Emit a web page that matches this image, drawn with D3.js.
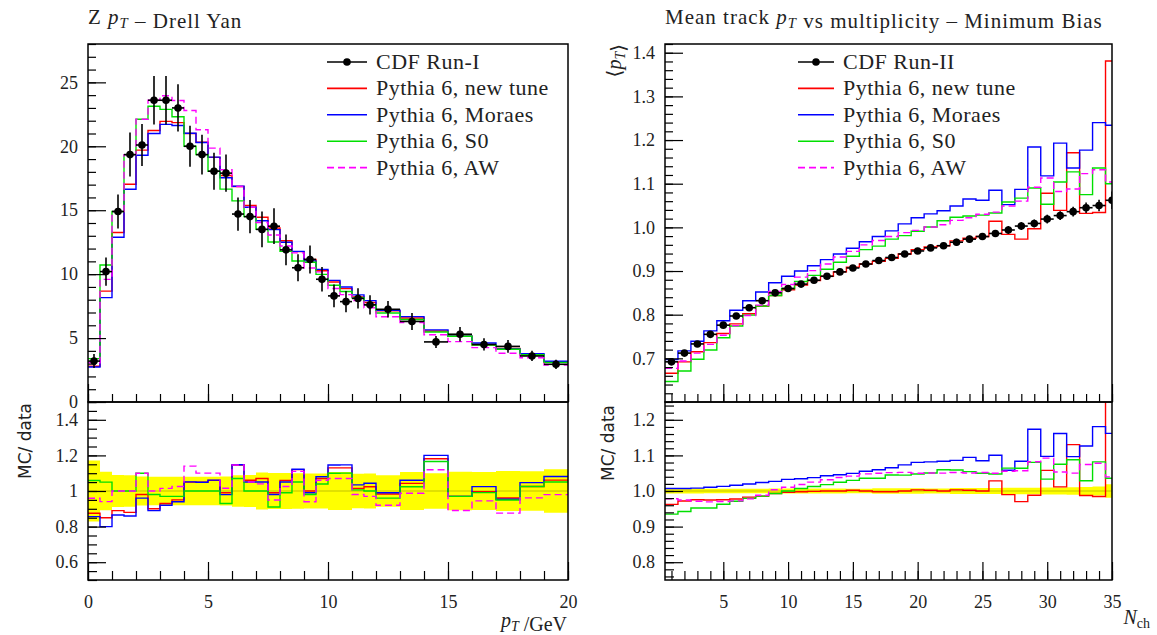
<!DOCTYPE html>
<html><head><meta charset="utf-8">
<script src="https://cdn.jsdelivr.net/npm/d3@7"></script>
<style>
body{margin:0;background:#fff}
svg{display:block}
</style>
</head><body>
<svg id="c" width="1157" height="635"></svg>
<script>
// ---------------- Left: Z pT (Drell Yan) ----------------
const zptEdges = [0,0.5,1,1.5,2,2.5,3,3.5,4,4.5,5,5.5,6,6.5,7,7.5,8,8.5,9,9.5,10,10.5,11,11.5,12,13,14,15,16,17,18,19,20];
const zptData  = [3.2,10.2,14.9,19.35,20.1,23.6,23.6,23.0,20.0,19.35,18.05,17.9,14.7,14.5,13.5,13.75,11.9,10.5,11.15,9.6,8.3,7.85,8.1,7.6,7.25,6.3,4.7,5.3,4.5,4.35,3.6,2.95];
const zptErr   = [0.55,1.1,1.33,1.72,1.65,1.9,1.9,1.85,1.6,1.55,1.45,1.45,1.3,1.3,1.4,1.4,1.2,1.05,1.1,0.95,0.89,0.84,0.79,0.75,0.64,0.67,0.47,0.57,0.48,0.49,0.40,0.36];
const zptNewTune = [2.80,8.67,13.26,17.03,19.70,21.24,21.95,21.85,21.00,20.32,19.13,17.72,16.85,15.37,14.45,13.61,12.61,11.76,11.15,10.27,9.38,8.87,8.22,7.78,7.13,6.57,5.55,5.14,4.48,4.18,3.69,3.13];
const zptMoraes  = [2.74,8.16,12.89,16.64,19.30,21.00,21.71,21.62,21.02,20.30,19.15,17.54,16.87,15.23,14.18,13.48,12.50,11.78,11.04,10.37,9.51,9.00,8.38,7.93,7.18,6.68,5.64,5.14,4.61,4.15,3.77,3.19];
const zptS0      = [3.39,10.71,14.90,19.35,22.11,23.13,22.89,22.31,20.00,19.35,18.05,16.65,15.73,14.50,13.50,12.51,11.78,11.03,10.93,9.98,9.13,8.64,8.15,7.60,6.96,6.45,5.48,5.14,4.46,4.13,3.69,3.10];
const zptAW      = [3.07,9.59,14.90,19.35,22.11,23.60,23.95,23.58,22.80,21.29,19.86,18.17,16.85,15.23,14.04,13.06,12.20,11.66,10.48,10.18,8.88,8.40,7.94,7.37,6.67,6.22,5.26,4.72,4.25,3.81,3.46,2.89];
const zptXTicks = [0,5,10,15,20];
const zptYTicks = [0,5,10,15,20,25];
const zptRTicks = [0.6,0.8,1,1.2,1.4];

// ---------------- Right: mean track pT vs Nch ----------------
const nchEdges = [0.5,1.5,2.5,3.5,4.5,5.5,6.5,7.5,8.5,9.5,10.5,11.5,12.5,13.5,14.5,15.5,16.5,17.5,18.5,19.5,20.5,21.5,22.5,23.5,24.5,25.5,26.5,27.5,28.5,29.5,30.5,31.5,32.5,33.5,34.5,35.5];
const nchData  = [0.692,0.712,0.733,0.755,0.776,0.797,0.816,0.832,0.850,0.860,0.870,0.879,0.888,0.898,0.907,0.916,0.924,0.931,0.939,0.946,0.953,0.958,0.966,0.973,0.979,0.986,0.994,1.003,1.009,1.019,1.027,1.036,1.045,1.050,1.062];
const nchErr   = [0.005,0.005,0.005,0.005,0.005,0.005,0.005,0.005,0.006,0.006,0.006,0.006,0.006,0.006,0.006,0.006,0.007,0.007,0.007,0.007,0.007,0.007,0.008,0.008,0.008,0.008,0.009,0.009,0.009,0.010,0.010,0.011,0.012,0.013,0.020];
const nchNewTune = [0.666,0.692,0.715,0.736,0.757,0.779,0.802,0.820,0.844,0.857,0.868,0.878,0.888,0.898,0.909,0.916,0.922,0.929,0.939,0.949,0.955,0.958,0.969,0.975,0.979,1.014,0.984,0.973,0.997,1.078,1.039,1.171,1.032,1.034,1.381];
const nchMoraes  = [0.697,0.717,0.739,0.763,0.786,0.810,0.832,0.852,0.873,0.888,0.900,0.912,0.926,0.939,0.952,0.967,0.979,0.992,1.008,1.022,1.031,1.038,1.049,1.065,1.062,1.085,1.052,1.087,1.184,1.118,1.193,1.136,1.177,1.240,1.234];
const nchS0      = [0.647,0.671,0.698,0.719,0.747,0.774,0.799,0.820,0.844,0.860,0.876,0.890,0.904,0.920,0.934,0.949,0.957,0.973,0.981,0.991,1.001,1.015,1.023,1.026,1.028,1.033,1.058,1.067,1.090,1.053,1.104,1.127,1.075,1.136,1.100];
const nchAW      = [0.677,0.694,0.712,0.732,0.753,0.775,0.798,0.822,0.853,0.869,0.886,0.901,0.916,0.932,0.945,0.960,0.970,0.979,0.988,0.993,1.001,1.006,1.016,1.022,1.030,1.035,1.049,1.060,1.092,1.113,1.082,1.088,1.123,1.132,1.104];
const nchXTicks = [5,10,15,20,25,30,35];
const nchYTicks = [0.7,0.8,0.9,1.0,1.1,1.2,1.3,1.4];
const nchRTicks = [0.8,0.9,1.0,1.1,1.2];

const mcNames  = ["Pythia 6, new tune","Pythia 6, Moraes","Pythia 6, S0","Pythia 6, AW"];
const mcColors = ["#ff0000","#0000ff","#00e000","#ff00ff"];
const mcDash   = [null,null,null,"7,4"];

const SERIF = '"Liberation Serif", "DejaVu Serif", serif';
const svg = d3.select("#c");
const defs = svg.append("defs");

function minorRange(a,b,s){const r=[];for(let v=a;v<=b+1e-9;v+=s)r.push(+v.toFixed(4));return r;}

function panel(o){
  const x  = d3.scaleLinear().domain(o.xDomain).range([o.left,o.right]);
  const y  = d3.scaleLinear().domain(o.yDomain).range([o.split,o.top]);
  const yr = d3.scaleLinear().domain(o.rDomain).range([o.bottom,o.split]);
  defs.append("clipPath").attr("id",o.id+"m").append("rect")
    .attr("x",o.left).attr("y",o.top).attr("width",o.right-o.left).attr("height",o.split-o.top);
  defs.append("clipPath").attr("id",o.id+"r").append("rect")
    .attr("x",o.left).attr("y",o.split).attr("width",o.right-o.left).attr("height",o.bottom-o.split);
  const gm = svg.append("g").attr("clip-path",`url(#${o.id}m)`);
  const gr = svg.append("g").attr("clip-path",`url(#${o.id}r)`);
  const E = o.edges;
  const steps = vals => vals.flatMap((v,i)=>[[E[i],v],[E[i+1],v]]);

  // ratio band (data uncertainty)
  const band = o.data.flatMap((v,i)=>{const r=o.err[i]/v;return [{x:E[i],lo:1-r,hi:1+r},{x:E[i+1],lo:1-r,hi:1+r}];});
  gr.append("path").datum(band)
    .attr("d",d3.area().x(d=>x(d.x)).y0(d=>yr(d.lo)).y1(d=>yr(d.hi)))
    .attr("fill","#ffff00");
  gr.append("line").attr("x1",o.left).attr("x2",o.right).attr("y1",yr(1)).attr("y2",yr(1))
    .attr("stroke","#000").attr("stroke-opacity",0.3).attr("stroke-width",0.8);

  const line = d3.line();
  o.series.forEach((s,k)=>{
    gm.append("path").datum(steps(s))
      .attr("d",line.x(d=>x(d[0])).y(d=>y(d[1])))
      .attr("fill","none").attr("stroke",mcColors[k]).attr("stroke-width",1.4)
      .attr("stroke-dasharray",mcDash[k]);
    gr.append("path").datum(steps(s.map((v,i)=>v/o.data[i])))
      .attr("d",line.x(d=>x(d[0])).y(d=>yr(d[1])))
      .attr("fill","none").attr("stroke",mcColors[k]).attr("stroke-width",1.4)
      .attr("stroke-dasharray",mcDash[k]);
  });

  // data points
  const pts = o.data.map((v,i)=>({lo:E[i],hi:E[i+1],c:(E[i]+E[i+1])/2,v:v,e:o.err[i]}));
  const gp = gm.append("g");
  gp.selectAll("line.h").data(pts).join("line").attr("class","h")
    .attr("x1",d=>x(d.lo)).attr("x2",d=>x(d.hi)).attr("y1",d=>y(d.v)).attr("y2",d=>y(d.v))
    .attr("stroke","#000").attr("stroke-width",1.6);
  gp.selectAll("line.v").data(pts).join("line").attr("class","v")
    .attr("x1",d=>x(d.c)).attr("x2",d=>x(d.c)).attr("y1",d=>y(d.v-d.e)).attr("y2",d=>y(d.v+d.e))
    .attr("stroke","#000").attr("stroke-width",1.6);
  gp.selectAll("circle").data(pts).join("circle")
    .attr("cx",d=>x(d.c)).attr("cy",d=>y(d.v)).attr("r",3.8).attr("fill","#000");

  // axes
  const styleAxis = (g)=>{
    g.attr("font-family",SERIF).attr("font-size",18);
    g.select(".domain").remove();
    g.selectAll("line").attr("stroke","#000").attr("stroke-width",1.2);
    g.selectAll("text").attr("font-family",SERIF).attr("font-size",18).attr("fill","#222");
  };
  const ax = (gen,tr)=>svg.append("g").attr("transform",tr).call(gen).call(styleAxis);
  // main y
  ax(d3.axisLeft(y).tickValues(o.yMinor).tickSize(-8).tickFormat(""),`translate(${o.left},0)`);
  ax(d3.axisLeft(y).tickValues(o.yTicks).tickSize(-18).tickPadding(10).tickFormat(o.yFmt),`translate(${o.left},0)`);
  // main x (bottom, no labels)
  ax(d3.axisBottom(x).tickValues(o.xMinor).tickSize(-8).tickFormat(""),`translate(0,${o.split})`);
  ax(d3.axisBottom(x).tickValues(o.xTicks).tickSize(-18).tickFormat(""),`translate(0,${o.split})`);
  // ratio y
  ax(d3.axisLeft(yr).tickValues(o.rMinor).tickSize(-9).tickFormat(""),`translate(${o.left},0)`);
  ax(d3.axisLeft(yr).tickValues(o.rTicks).tickSize(-18).tickPadding(10).tickFormat(o.rFmt),`translate(${o.left},0)`);
  // ratio x
  ax(d3.axisBottom(x).tickValues(o.xMinor).tickSize(-9).tickFormat(""),`translate(0,${o.bottom})`);
  ax(d3.axisBottom(x).tickValues(o.xTicks).tickSize(-18).tickPadding(15).tickFormat(d3.format("d")),`translate(0,${o.bottom})`);

  // frames
  [[o.top,o.split],[o.split,o.bottom]].forEach(([a,b])=>{
    svg.append("rect").attr("x",o.left).attr("y",a).attr("width",o.right-o.left).attr("height",b-a)
      .attr("fill","none").attr("stroke","#000").attr("stroke-width",1.5);
  });

  // legend
  const lg = svg.append("g");
  const rows = [o.dataName].concat(mcNames);
  rows.forEach((name,k)=>{
    const cy = o.legY + k*26.4;
    const ln = lg.append("line").attr("x1",o.legX).attr("x2",o.legX+o.legLen).attr("y1",cy).attr("y2",cy)
      .attr("stroke-width",1.6);
    if(k===0){
      ln.attr("stroke","#000");
      lg.append("circle").attr("cx",o.legX+o.legLen/2).attr("cy",cy).attr("r",3.8).attr("fill","#000");
    } else {
      ln.attr("stroke",mcColors[k-1]).attr("stroke-dasharray",mcDash[k-1]);
    }
    lg.append("text").attr("x",o.legX+o.legLen+9).attr("y",cy+7)
      .attr("font-family",SERIF).attr("font-size",22).attr("letter-spacing",0.5).attr("fill","#222").text(name);
  });

  // title
  const t = svg.append("text").attr("x",o.left).attr("y",24).attr("font-family",SERIF)
    .attr("font-size",21).attr("letter-spacing",1.0).attr("fill","#222");
  o.title(t);
  return {x,y,yr};
}

function pT(sel){
  sel.append("tspan").attr("font-style","italic").text("p");
  sel.append("tspan").attr("font-style","italic").attr("font-size","70%").attr("dy",4).text("T");
  sel.append("tspan").attr("dy",-4).text("");
}

panel({
  id:"L", left:88, right:568, top:44, split:402, bottom:580,
  xDomain:[0,20], yDomain:[0,28], rDomain:[0.5,1.5],
  edges:zptEdges, data:zptData, err:zptErr,
  series:[zptNewTune,zptMoraes,zptS0,zptAW],
  xTicks:zptXTicks, xMinor:minorRange(0,20,1),
  yTicks:zptYTicks, yMinor:minorRange(0,28,1), yFmt:d3.format("d"),
  rTicks:zptRTicks, rMinor:minorRange(0.5,1.5,0.05), rFmt:d3.format("~g"),
  dataName:"CDF Run-I", legX:327, legLen:40, legY:62,
  title:t=>{t.append("tspan").text("Z "); pT(t); t.append("tspan").text(" – Drell Yan");}
});

panel({
  id:"R", left:665, right:1112, top:44, split:402, bottom:580,
  xDomain:[0.5,35], yDomain:[0.6,1.42], rDomain:[0.75,1.25],
  edges:nchEdges, data:nchData, err:nchErr,
  series:[nchNewTune,nchMoraes,nchS0,nchAW],
  xTicks:nchXTicks, xMinor:minorRange(1,35,1),
  yTicks:nchYTicks, yMinor:minorRange(0.6,1.42,0.02), yFmt:d3.format(".1f"),
  rTicks:nchRTicks, rMinor:minorRange(0.76,1.24,0.02), rFmt:d3.format(".1f"),
  dataName:"CDF Run-II", legX:798, legLen:36, legY:62,
  title:t=>{t.append("tspan").text("Mean track "); pT(t); t.append("tspan").text(" vs multiplicity – Minimum Bias");}
});

// axis titles
const xl = svg.append("text").attr("x",567).attr("y",627).attr("text-anchor","end")
  .attr("font-family",SERIF).attr("font-size",20).attr("fill","#222");
pT(xl); xl.append("tspan").text(" /GeV");

const nl = svg.append("text").attr("x",1150).attr("y",624).attr("text-anchor","end")
  .attr("font-family",SERIF).attr("font-size",20).attr("fill","#222");
nl.append("tspan").attr("font-style","italic").text("N");
nl.append("tspan").attr("font-size","70%").attr("dy",4).text("ch");

const yl = svg.append("text").attr("transform","translate(621,44) rotate(-90)").attr("text-anchor","end")
  .attr("font-family",SERIF).attr("font-size",20).attr("fill","#222");
yl.append("tspan").text("⟨");
pT(yl);
yl.append("tspan").text("⟩");

[[31,441],[614,443]].forEach(([px,py])=>{
  svg.append("text").attr("transform",`translate(${px},${py}) rotate(-90)`).attr("text-anchor","middle")
    .attr("font-family",'"DejaVu Sans", sans-serif').attr("font-size",17).attr("fill","#222").text("MC/ data");
});
</script>
</body></html>
